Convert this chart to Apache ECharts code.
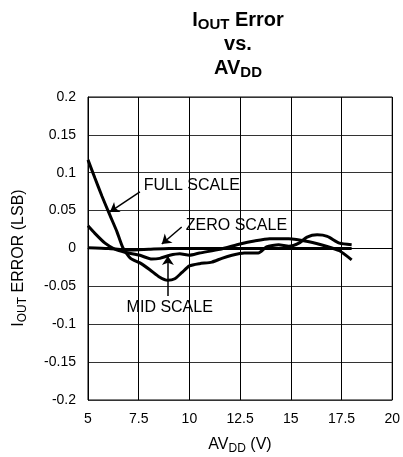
<!DOCTYPE html>
<html><head><meta charset="utf-8">
<script src="https://cdn.jsdelivr.net/npm/echarts@6/dist/echarts.min.js"></script>
<style>html,body{margin:0;padding:0;background:#fff}#c{width:403px;height:457px}</style>
</head><body><div id="c"></div>
<script>
// ---- data ----
const fullX = [5, 5.34, 5.69, 6.08, 6.43, 6.72, 7.1, 7.56, 8.05, 8.54, 8.93, 9.28, 9.62, 10.0, 10.5, 11.1, 11.6, 12.1, 12.7, 13.4, 13.8, 14.4, 14.9, 15.4, 15.8, 16.3, 16.8, 17.4, 18.0];
const fullY = [0.117, 0.093, 0.069, 0.044, 0.022, 0.001, -0.013, -0.019, -0.028, -0.038, -0.042, -0.040, -0.032, -0.023, -0.020, -0.018, -0.013, -0.009, -0.006, -0.006, 0.002, 0.005, 0.003, 0.007, 0.015, 0.018, 0.016, 0.007, 0.005];
const midX = [5, 5.34, 5.84, 6.33, 6.82, 7.56, 8.15, 8.54, 9.03, 9.53, 10.0, 10.5, 11.5, 12.5, 13.2, 13.95, 14.9, 15.9, 16.75, 17.4, 18.0];
const midY = [0.030, 0.020, 0.007, -0.001, -0.005, -0.009, -0.014, -0.013, -0.009, -0.007, -0.009, -0.006, -0.001, 0.006, 0.010, 0.013, 0.013, 0.009, 0.003, -0.003, -0.015];
const zeroX = [5, 6, 7, 8, 9, 10, 11, 12, 13, 14, 15, 16, 17, 18];
const zeroY = [0.001, 0, -0.002, -0.001, 0, 0, 0, 0, 0, 0, 0, 0, 0, 0];
const xTicks = {min: 5, max: 20, interval: 2.5};
const yTicks = {min: -0.2, max: 0.2, interval: 0.05};
// annotation labels (data coords) and arrows (from -> to, data coords)
const labelTexts = ['FULL SCALE', 'ZERO SCALE', 'MID SCALE'];
const labelPos = [[7.75, 0.0825], [9.82, 0.0297], [9.03, -0.0779]];
const labelAlign = ['left', 'left', 'center'];
const arrows = [
  [[7.56, 0.0746], [6.08, 0.0482]],
  [[9.62, 0.0284], [8.64, 0.0059]],
  [[8.94, -0.0627], [8.94, -0.0099]]
];

const zip = (xs, ys) => xs.map((x, i) => [x, ys[i]]);
const FONT = '"Liberation Sans", Arial, sans-serif';

const chart = echarts.init(document.getElementById('c'), null, {renderer: 'canvas'});
const lineSeries = (name, data) => ({
  name, type: 'line', data, showSymbol: false, symbol: 'none', smooth: 0.2,
  lineStyle: {color: '#000', width: 3}, z: 3, animation: false
});

chart.setOption({
  animation: false,
  backgroundColor: '#fff',
  grid: {left: 88, right: 10, top: 97, bottom: 57, show: true, borderColor: '#000', borderWidth: 1},
  xAxis: {
    type: 'value', min: xTicks.min, max: xTicks.max, interval: xTicks.interval,
    axisLine: {show: true, lineStyle: {color: '#000', width: 1}},
    axisTick: {show: false},
    splitLine: {show: true, lineStyle: {color: '#000', width: 1}},
    axisLabel: {color: '#000', fontSize: 14, fontFamily: FONT, margin: 12,
      formatter: v => String(Math.round(v * 10) / 10)}
  },
  yAxis: {
    type: 'value', min: yTicks.min, max: yTicks.max, interval: yTicks.interval,
    axisLine: {show: true, lineStyle: {color: '#000', width: 1}},
    axisTick: {show: false},
    splitLine: {show: true, lineStyle: {color: '#333', width: 1}},
    axisLabel: {color: '#000', fontSize: 14, fontFamily: FONT, margin: 12,
      formatter: v => String(Math.round(v * 100) / 100)}
  },
  graphic: [
    {type: 'text', x: 238, y: 8, z: 10,
      style: {
        text: '{b|I}{s|OUT}{b| Error}\n{b|vs.}\n{b|AV}{s|DD}',
        align: 'center', verticalAlign: 'top', fill: '#000',
        rich: {
          b: {fontSize: 20, fontWeight: 'bold', fontFamily: FONT, lineHeight: 24, fill: '#000'},
          s: {fontSize: 15, fontWeight: 'bold', fontFamily: FONT, lineHeight: 13, verticalAlign: 'bottom', fill: '#000'}
        }
      }},
    {type: 'text', x: 19, y: 258, rotation: Math.PI / 2, z: 10,
      style: {
        text: '{n|I}{s|OUT}{n| ERROR (LSB)}',
        align: 'center', verticalAlign: 'middle', fill: '#000',
        rich: {
          n: {fontSize: 16, fontFamily: FONT, lineHeight: 20, fill: '#000'},
          s: {fontSize: 12, fontFamily: FONT, lineHeight: 12, verticalAlign: 'bottom', fill: '#000'}
        }
      }},
    {type: 'text', x: 240, y: 445, z: 10,
      style: {
        text: '{n|AV}{s|DD}{n| (V)}',
        align: 'center', verticalAlign: 'middle', fill: '#000',
        rich: {
          n: {fontSize: 16, fontFamily: FONT, lineHeight: 20, fill: '#000'},
          s: {fontSize: 12, fontFamily: FONT, lineHeight: 12, verticalAlign: 'bottom', fill: '#000'}
        }
      }}
  ],
  series: [
    lineSeries('FULL SCALE', zip(fullX, fullY)),
    lineSeries('MID SCALE', zip(midX, midY)),
    lineSeries('ZERO SCALE', zip(zeroX, zeroY)),
    {
      type: 'lines', coordinateSystem: 'cartesian2d', animation: false, z: 5,
      symbol: ['none', 'arrow'], symbolSize: 9,
      lineStyle: {color: '#000', width: 1.5, opacity: 1},
      data: arrows.map(a => ({coords: a}))
    },
    {
      type: 'scatter', symbolSize: 0, animation: false, z: 6, silent: true,
      itemStyle: {opacity: 1, color: '#000'},
      data: labelPos.map((p, i) => ({
        value: p,
        label: {show: true, formatter: labelTexts[i], position: [0, 0],
          align: labelAlign[i], verticalAlign: 'middle', opacity: 1,
          color: '#000', fontSize: 16, fontFamily: FONT}
      }))
    }
  ]
});
</script></body></html>
